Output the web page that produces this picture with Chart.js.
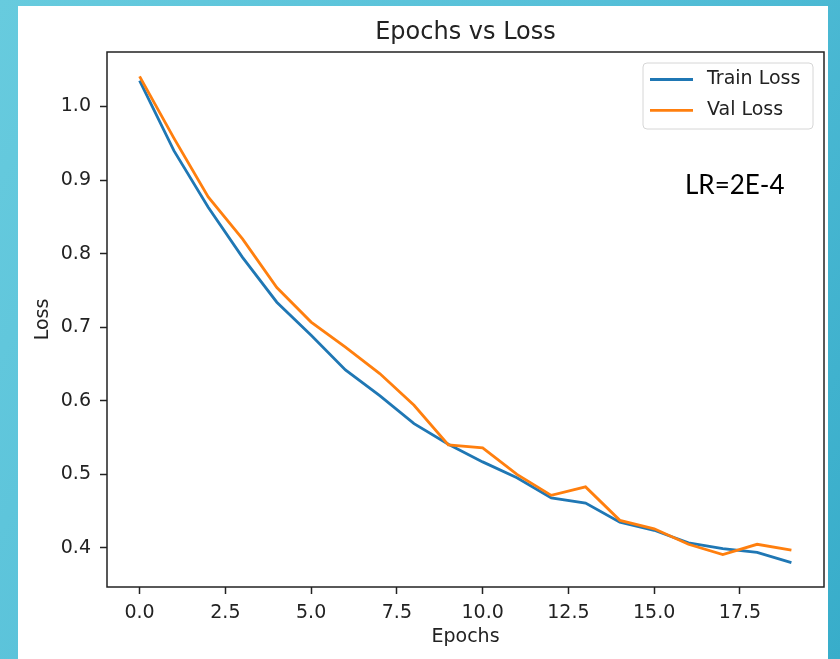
<!DOCTYPE html>
<html>
<head>
<meta charset="utf-8">
<title>Epochs vs Loss</title>
<script src="https://cdn.jsdelivr.net/npm/chart.js@4.4.1/dist/chart.umd.min.js"></script>
<style>
    html, body {
        margin: 0;
        padding: 0;
        width: 840px;
        height: 659px;
        overflow: hidden;
        background: linear-gradient(120deg, #67cbde 0%, #55bfd8 50%, #38adca 100%);
    }
    .panel {
        position: absolute;
        left: 18px;
        top: 6px;
        width: 810px;
        height: 653px;
        background: #ffffff;
    }
</style>
</head>
<body>
<div class="panel">
    <canvas id="lossChart"></canvas>
</div>
<script>
const epochs = [0, 1, 2, 3, 4, 5, 6, 7, 8, 9, 10, 11, 12, 13, 14, 15, 16, 17, 18, 19];
const trainLoss = [1.035, 0.940, 0.863, 0.795, 0.734, 0.689, 0.642, 0.607, 0.569, 0.541,
                   0.517, 0.4955, 0.468, 0.461, 0.435, 0.424, 0.407, 0.399, 0.394, 0.380];
const valLoss = [1.041, 0.957, 0.877, 0.820, 0.754, 0.707, 0.673, 0.637, 0.594, 0.540,
                 0.536, 0.500, 0.4715, 0.483, 0.4375, 0.426, 0.405, 0.391, 0.405, 0.397];
const xTicks = [0, 2.5, 5, 7.5, 10, 12.5, 15, 17.5];
const yTicks = [0.4, 0.5, 0.6, 0.7, 0.8, 0.9, 1.0];
const seriesNames = ['Train Loss', 'Val Loss'];
const note = 'LR=2E-4';

const FONT = "'DejaVu Sans', sans-serif";
const INK = '#222222';

// matplotlib-style margins (5% of the data range on each side)
const yLo = Math.min(...trainLoss, ...valLoss);
const yHi = Math.max(...trainLoss, ...valLoss);
const yPad = (yHi - yLo) * 0.05;
const xPad = (epochs[epochs.length - 1] - epochs[0]) * 0.05;

function points(ys) {
    return epochs.map((e, i) => ({ x: e, y: ys[i] }));
}

// frame, legend box and the LR note
const decorations = {
    id: 'decorations',
    afterDatasetsDraw(chart) {
        const ctx = chart.ctx;
        const area = chart.chartArea;
        ctx.save();

        ctx.strokeStyle = INK;
        ctx.lineWidth = 1.5;
        ctx.strokeRect(area.left, area.top, area.right - area.left, area.bottom - area.top);

        // legend
        const boxW = 170, boxH = 66;
        const bx = area.right - 11 - boxW;
        const by = area.top + 11;
        ctx.beginPath();
        ctx.roundRect(bx, by, boxW, boxH, 4);
        ctx.fillStyle = 'rgba(255,255,255,0.8)';
        ctx.fill();
        ctx.strokeStyle = '#d6d6d6';
        ctx.lineWidth = 1;
        ctx.stroke();

        ctx.font = '19px ' + FONT;
        ctx.textBaseline = 'middle';
        ctx.textAlign = 'left';
        chart.data.datasets.forEach((ds, i) => {
            const ly = by + 16.5 + i * 30.8;
            ctx.strokeStyle = ds.borderColor;
            ctx.lineWidth = 2.8;
            ctx.beginPath();
            ctx.moveTo(bx + 7, ly);
            ctx.lineTo(bx + 50, ly);
            ctx.stroke();
            ctx.fillStyle = INK;
            ctx.fillText(ds.label, bx + 64, ly);
        });

        // note
        ctx.font = '26px Lato, sans-serif';
        ctx.fillStyle = '#000000';
        ctx.textBaseline = 'alphabetic';
        ctx.fillText(note, area.left + 578, area.top + 142);

        ctx.restore();
    }
};

const ctx = document.getElementById('lossChart').getContext('2d');

new Chart(ctx, {
    type: 'line',
    data: {
        datasets: [
            {
                label: seriesNames[0],
                data: points(trainLoss),
                borderColor: '#1f77b4',
                borderWidth: 2.8,
                pointRadius: 0,
                tension: 0,
                order: 1
            },
            {
                label: seriesNames[1],
                data: points(valLoss),
                borderColor: '#ff7f0e',
                borderWidth: 2.8,
                pointRadius: 0,
                tension: 0,
                order: 0
            }
        ]
    },
    plugins: [decorations],
    options: {
        responsive: true,
        maintainAspectRatio: false,
        animation: false,
        layout: { padding: { left: 0, right: 4, top: 0, bottom: 0 } },
        plugins: {
            legend: { display: false },
            tooltip: { enabled: false },
            title: {
                display: true,
                text: 'Epochs vs Loss',
                fullSize: false,
                color: INK,
                font: { family: FONT, size: 24, weight: 'normal', lineHeight: 1.2 },
                padding: { top: 12, bottom: 5.2 }
            }
        },
        scales: {
            x: {
                type: 'linear',
                min: epochs[0] - xPad,
                max: epochs[epochs.length - 1] + xPad,
                afterBuildTicks: scale => { scale.ticks = xTicks.map(v => ({ value: v })); },
                afterFit: scale => { scale.height = 72; },
                grid: {
                    drawOnChartArea: false,
                    drawTicks: true,
                    tickLength: 7,
                    tickWidth: 1.5,
                    tickColor: INK
                },
                border: { display: false },
                ticks: {
                    color: INK,
                    padding: 8,
                    maxRotation: 0,
                    font: { family: FONT, size: 19, lineHeight: 1.2 },
                    callback: v => v.toFixed(1)
                },
                title: {
                    display: true,
                    text: 'Epochs',
                    color: INK,
                    font: { family: FONT, size: 19, lineHeight: 1.2 },
                    padding: { top: 0, bottom: 11 }
                }
            },
            y: {
                type: 'linear',
                min: yLo - yPad,
                max: yHi + yPad,
                afterBuildTicks: scale => { scale.ticks = yTicks.map(v => ({ value: v })); },
                afterFit: scale => { scale.width = 89; },
                grid: {
                    drawOnChartArea: false,
                    drawTicks: true,
                    tickLength: 7,
                    tickWidth: 1.5,
                    tickColor: INK
                },
                border: { display: false },
                ticks: {
                    color: INK,
                    padding: 9,
                    font: { family: FONT, size: 19, lineHeight: 1.2 },
                    callback: v => v.toFixed(1)
                },
                title: {
                    display: true,
                    text: 'Loss',
                    color: INK,
                    font: { family: FONT, size: 19, lineHeight: 1.2 },
                    padding: { top: 14, bottom: 0 }
                }
            }
        }
    }
});
</script>
</body>
</html>
